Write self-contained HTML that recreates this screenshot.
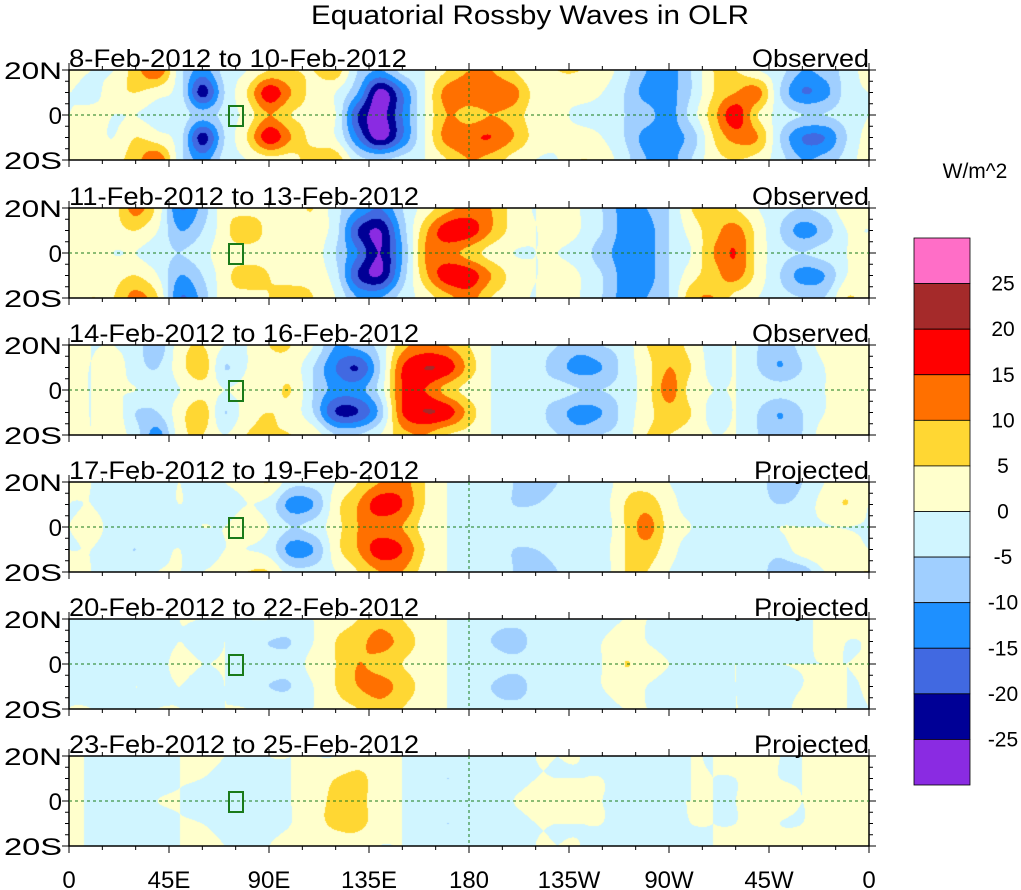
<!DOCTYPE html>
<html><head><meta charset="utf-8">
<style>
html,body{margin:0;padding:0;background:#fff;}
body{width:1021px;height:890px;position:relative;overflow:hidden;font-family:"Liberation Sans",sans-serif;color:#000;}
canvas{position:absolute;}
</style></head>
<body>
<div id="root"></div>
<svg id="ov" width="1021" height="890" style="position:absolute;left:0;top:0"></svg>
<script>
const lats=["20N","0","20S"];
const xTicks=["0","45E","90E","135E","180","135W","90W","45W","0"];
const cbLabels=["25","20","15","10","5","0","-5","-10","-15","-20","-25"];
const panelDates=["8-Feb-2012 to 10-Feb-2012","11-Feb-2012 to 13-Feb-2012","14-Feb-2012 to 16-Feb-2012","17-Feb-2012 to 19-Feb-2012","20-Feb-2012 to 22-Feb-2012","23-Feb-2012 to 25-Feb-2012"];
const panelKinds=["Observed","Observed","Observed","Projected","Projected","Projected"];
// Each panel: per 10deg longitude (0..350), values at [20N,10N,0,10S,20S]
const p1=[[2,0,0,2,3],[0,-2,2,2,3],[0,3,0,0,3],[8,5,0,5,8],[14,2,-2,2,14],[-3,-3,-2,-3,-3],[-12,-22,-8,-22,-12],[-3,-5,-3,-5,-3],[0,5,2,5,0],[5,18,10,18,3],[5,10,5,10,3],[5,3,3,3,8],[8,0,0,0,8],[-5,-10,-20,-15,-3],[-10,-27,-27,-27,-5],[-3,-15,-15,-15,-3],[0,0,0,0,0],[5,12,10,12,5],[10,14,8,14,10],[10,14,10,15,8],[5,12,8,10,3],[0,3,2,3,0],[5,1,1,1,0],[5,2,-1,2,5],[3,0,-2,0,3],[-3,-5,-5,-5,-3],[-10,-12,-8,-12,-10],[-12,-12,-12,-12,-12],[-5,-5,-3,-8,-5],[5,5,8,5,3],[5,10,18,12,5],[0,12,5,10,3],[-3,-5,-2,-5,-3],[-10,-15,-5,-15,-10],[-8,-12,-5,-15,-8],[-3,-3,-3,-5,-3]];
const p2=[[3,0,3,3,3],[0,2,3,2,5],[3,3,0,3,5],[12,5,0,5,12],[3,0,-3,0,5],[-15,-10,-5,-10,-15],[-8,-5,-2,-5,-8],[3,3,3,3,3],[2,10,2,8,3],[3,3,3,5,5],[3,3,5,3,8],[5,3,3,3,5],[-3,-3,-5,-3,0],[-10,-20,-15,-20,-10],[-15,-25,-25,-25,-10],[-5,-8,-10,-8,-3],[2,8,10,8,2],[8,18,12,18,8],[12,18,8,18,12],[10,10,3,10,5],[3,3,0,3,2],[0,0,0,0,0],[5,2,0,2,5],[0,0,-2,0,0],[-5,-5,-8,-5,-5],[-12,-12,-12,-12,-12],[-10,-12,-12,-12,-10],[-5,-5,-5,-5,-5],[5,2,0,3,8],[8,8,10,8,10],[5,12,15,12,3],[0,3,3,3,0],[-3,-5,-3,-5,-3],[-5,-12,-5,-12,-5],[-3,-8,-3,-10,-5],[3,0,0,0,5]];
const p3=[[3,2,0,2,3],[0,0,0,0,0],[0,3,0,3,3],[-3,-3,0,-5,-3],[-8,-5,-3,-5,-12],[3,3,0,3,3],[5,8,3,8,5],[0,-5,0,-5,0],[0,0,2,3,5],[5,3,3,5,5],[5,3,5,3,5],[0,-5,-5,-5,3],[-10,-15,-12,-20,-5],[-8,-20,-12,-20,-5],[-3,-5,-3,-8,0],[8,15,15,15,8],[12,20,15,20,10],[10,18,8,18,5],[5,8,3,8,3],[0,0,0,0,0],[-2,-2,-2,-2,-2],[-3,-3,-3,-3,-3],[-5,-8,-3,-8,-5],[-8,-12,-5,-12,-8],[-5,-10,-5,-10,-5],[-3,-3,-3,-3,-3],[5,3,3,3,5],[8,10,12,8,5],[3,5,3,5,3],[-2,-2,0,-2,0],[0,0,0,0,0],[-5,-5,-2,-5,-5],[-8,-10,-3,-10,-8],[-3,-5,-2,-5,-5],[2,0,0,0,3],[5,3,0,3,5]];
const p4=[[3,0,0,0,5],[0,0,2,0,0],[-2,-3,-2,-3,-2],[-3,-5,-3,-5,-3],[-2,-3,-3,-2,0],[0,0,-2,0,0],[-3,-3,0,-5,0],[0,-3,0,0,3],[2,0,3,0,5],[5,-2,0,-2,5],[-3,-12,-5,-12,-3],[-3,-10,-3,-10,-3],[0,3,3,3,0],[5,10,10,10,5],[10,18,12,18,10],[12,15,10,15,10],[5,5,3,5,3],[0,0,0,0,0],[-2,-2,-2,-2,-2],[-3,-3,-3,-3,-3],[-5,-5,-3,-5,-5],[-8,-5,-3,-5,-8],[-5,-3,-2,-3,-5],[-3,-2,-1,-2,-3],[-3,-2,-3,-2,-3],[3,5,5,5,5],[3,8,12,8,5],[0,2,3,2,0],[-2,-2,0,-2,-2],[-2,-2,-2,-2,-2],[-2,-2,-2,-2,-2],[-3,-3,-2,-3,-3],[-8,-5,0,-3,-8],[-5,-3,0,3,-8],[0,2,0,5,0],[3,5,0,3,3]];
const p5=[[0,0,0,0,0],[-2,-2,-3,-2,0],[-2,-3,-3,-3,-2],[-2,0,-2,0,-2],[-3,-3,-2,-2,0],[0,0,2,0,0],[0,-3,0,-3,0],[0,0,0,0,0],[0,-3,-3,-3,0],[0,-5,-3,-5,-2],[-2,-5,-3,-5,-2],[0,0,2,0,0],[3,5,5,5,3],[5,8,10,10,5],[8,12,8,12,8],[5,8,5,8,5],[2,3,2,3,2],[0,0,0,0,0],[-2,-2,-2,-2,-2],[-3,-5,-2,-5,-3],[-3,-8,-3,-8,-3],[-3,-3,-3,-3,-3],[-2,-2,-5,-2,-2],[-2,-2,-2,-2,-2],[-2,0,0,0,-2],[0,3,5,3,0],[0,0,3,0,0],[-2,-2,0,-2,-2],[-2,-2,0,-2,-5],[-2,-2,0,-2,-3],[0,0,0,0,0],[-2,-2,0,-2,-2],[-5,-3,0,-3,-3],[-3,-3,0,0,3],[3,3,0,3,3],[3,0,0,0,0]];
const p6=[[2,2,2,2,2],[-1,-1,-1,-1,-1],[-2,-2,-2,-2,-2],[-3,-2,-2,-2,-3],[-3,-2,0,-2,-3],[0,0,0,0,0],[2,0,-2,0,2],[0,-2,-2,-2,0],[-2,-2,-3,-2,-2],[0,-2,-2,-2,0],[0,0,0,0,2],[0,2,3,3,0],[0,5,6,6,2],[3,6,6,6,3],[3,3,3,3,0],[0,0,0,0,0],[-2,-2,-2,-2,-2],[-2,-5,-2,-5,-2],[-2,-3,-2,-3,-2],[-2,-2,-2,-2,-2],[-2,-2,0,-2,-2],[0,0,2,0,0],[0,0,2,0,0],[0,0,2,0,0],[-2,0,0,0,-2],[-2,-2,0,-2,-2],[-2,-2,0,-2,-2],[-2,-2,0,-2,-2],[0,0,0,0,-2],[0,0,0,0,0],[2,0,0,0,2],[2,2,2,2,2],[0,0,2,0,2],[0,0,0,0,2],[2,2,2,2,2],[2,2,2,2,2]];
const panels=[p1,p2,p3,p4,p5,p6];
const colors=["#ff6ec7","#a52a2a","#ff0000","#ff7000","#ffd733","#ffffcc","#d0f5ff","#a0cfff","#1e90ff","#4169e1","#000096","#8a2be2"];

const X0=69,W=800,H=90,tops=[70,208,345,482,619,756];
const xOf=lon=>X0+lon/360*W;
const yOf=(top,lat)=>top+(20-lat)/40*H;
function colorFor(v){
  const edges=[25,20,15,10,5,0,-5,-10,-15,-20,-25];
  for(let i=0;i<edges.length;i++){ if(v>=edges[i]) return colors[i]; }
  return colors[11];
}
function hex(c){return [parseInt(c.substr(1,2),16),parseInt(c.substr(3,2),16),parseInt(c.substr(5,2),16)];}
function cr(p0,p1,p2,p3,t){return 0.5*((2*p1)+(-p0+p2)*t+(2*p0-5*p1+4*p2-p3)*t*t+(-p0+3*p1-3*p2+p3)*t*t*t);}
const root=document.getElementById('root');
const ov=document.getElementById('ov');
const NS='http://www.w3.org/2000/svg';
function sv(tag,attrs,parent){const e=document.createElementNS(NS,tag);for(const k in attrs)e.setAttribute(k,attrs[k]);(parent||ov).appendChild(e);return e;}
function tx(x,y,s,size,anchor,name,len){const t=sv('text',{x:x,y:y,'font-size':size,'text-anchor':anchor,'font-family':'Liberation Sans, sans-serif'});if(len){t.setAttribute('textLength',len);t.setAttribute('lengthAdjust','spacingAndGlyphs');}t.textContent=s;


return t;}

panels.forEach((data,pi)=>{
  const top=tops[pi];
  const cv=document.createElement('canvas');
  cv.width=W;cv.height=H;
  cv.style.left=X0+'px';cv.style.top=top+'px';
  
  
  root.appendChild(cv);
  const ctx=cv.getContext('2d');
  const img=ctx.createImageData(W,H);
  const n=data.length;
  const g=(i,j)=>data[((i%n)+n)%n][Math.max(0,Math.min(4,j))];
  for(let py=0;py<H;py++){
    const fy=(py+0.5)/H*4; const j=Math.min(3,Math.floor(fy)); const ty=fy-j;
    for(let px=0;px<W;px++){
      const fx=(px+0.5)/W*36; const i=Math.floor(fx); const t=fx-i;
      const col=[];
      for(let di=-1;di<=2;di++){col.push(cr(g(i+di,j-1),g(i+di,j),g(i+di,j+1),g(i+di,j+2),ty));}
      const v=cr(col[0],col[1],col[2],col[3],t);
      const c=hex(colorFor(v));
      const k=(py*W+px)*4;
      img.data[k]=c[0];img.data[k+1]=c[1];img.data[k+2]=c[2];img.data[k+3]=255;
    }
  }
  ctx.putImageData(img,0,0);
  const fr=sv('rect',{x:X0,y:top,width:W,height:H,fill:'none',stroke:'#000','stroke-width':1.5});
  
  
  const eq=sv('line',{x1:X0,x2:X0+W,y1:yOf(top,0),y2:yOf(top,0),stroke:'#1a7a1a','stroke-dasharray':'3,3','stroke-width':1});
  
  
  const dl=sv('line',{x1:xOf(180),x2:xOf(180),y1:top,y2:top+H,stroke:'#1a7a1a','stroke-dasharray':'3,3','stroke-width':1});
  
  
  const bx=sv('rect',{x:xOf(72),y:yOf(top,4),width:14,height:20,fill:'none',stroke:'#1a7a1a','stroke-width':2});
  
  
  for(let L=0;L<=360;L+=15){
    const len=(L%45===0)?7:4;
    sv('line',{x1:xOf(L),x2:xOf(L),y1:top+H,y2:top+H+len,stroke:'#000'});
    sv('line',{x1:xOf(L),x2:xOf(L),y1:top,y2:top-len,stroke:'#000'});
  }
  for(let la=-20;la<=20;la+=5){
    const len=(la%20===0)?7:4;
    sv('line',{x1:X0,x2:X0-len,y1:yOf(top,la),y2:yOf(top,la),stroke:'#000'});
    sv('line',{x1:X0+W,x2:X0+W+len,y1:yOf(top,la),y2:yOf(top,la),stroke:'#000'});
  }
  lats.forEach((s,i)=>tx(62,yOf(top,20-i*20)+9,s,24,'end','y-tick-label',s==='0'?null:58));
  tx(X0,top-3,panelDates[pi],25,'start','panel-date-title',panelDates[pi].startsWith('8')?338:350);
  tx(X0+W,top-3,panelKinds[pi],25,'end','panel-kind-label',panelKinds[pi]==='Observed'?117:115);
});
xTicks.forEach((s,i)=>tx(xOf(i*45),888,s,24,'middle','x-tick-label'));
tx(530,24,"Equatorial Rossby Waves in OLR",27,'middle','chart-title',438);
tx(975,178,"W/m^2",21,'middle','colorbar-units');
const cbX=914,cbW=56,cbTop=238,cbH=547,nb=colors.length,bh=cbH/nb;
colors.forEach((c,i)=>{
  const r=sv('rect',{x:cbX,y:cbTop+i*bh,width:cbW,height:bh,fill:c,stroke:'#000','stroke-width':0.8});
  
  
});
cbLabels.forEach((s,i)=>tx(1003,cbTop+(i+1)*bh+7,s,21,'middle','colorbar-label'));
</script>
</body></html>
